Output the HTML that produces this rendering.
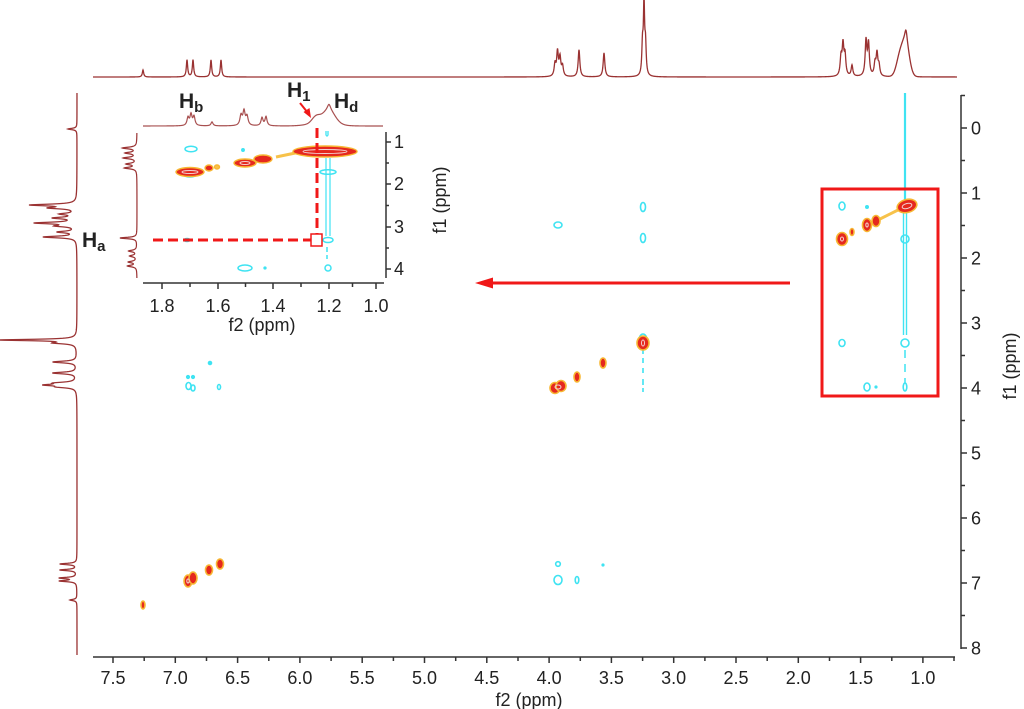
<!DOCTYPE html>
<html><head><meta charset="utf-8">
<style>
html,body{margin:0;padding:0;background:#fff;}
svg{display:block;}
text{font-family:"Liberation Sans",Arial,sans-serif;fill:#222;}
</style></head>
<body>
<svg id="s" width="1024" height="709" viewBox="0 0 1024 709" xmlns="http://www.w3.org/2000/svg">
<rect width="1024" height="709" fill="#fff"/>

<!-- spectra (filled by script) -->
<path id="topSpec" fill="none" stroke="#9a3232" stroke-width="1.3"/>
<path id="leftSpec" fill="none" stroke="#9a3232" stroke-width="1.3"/>
<path id="inTop" fill="none" stroke="#a85050" stroke-width="1.2"/>
<path id="inLeft" fill="none" stroke="#9a3232" stroke-width="1.2"/>

<!-- main x axis -->
<g stroke="#333" stroke-width="1.5" fill="none">
<line x1="93" y1="657" x2="955" y2="657"/>
<path d="M113,657v6M175.3,657v6M237.6,657v6M299.9,657v6M362.2,657v6M424.5,657v6M486.8,657v6M549.1,657v6M611.4,657v6M673.7,657v6M736,657v6M798.3,657v6M860.6,657v6M922.9,657v6"/>
<path d="M144.2,657v4M206.5,657v4M268.8,657v4M331.1,657v4M393.4,657v4M455.7,657v4M518,657v4M580.3,657v4M642.6,657v4M704.9,657v4M767.2,657v4M829.5,657v4M891.8,657v4M954,657v4"/>
<!-- right axis -->
<line x1="961" y1="95" x2="961" y2="649"/>
<path d="M961,128h6M961,193h6M961,258h6M961,323h6M961,388h6M961,453h6M961,518h6M961,583h6M961,648h6"/>
<path d="M961,95.5h4M961,160.5h4M961,225.5h4M961,290.5h4M961,355.5h4M961,420.5h4M961,485.5h4M961,550.5h4M961,615.5h4"/>
</g>
<g font-size="18" text-anchor="middle">
<text x="113" y="684">7.5</text><text x="175.3" y="684">7.0</text><text x="237.6" y="684">6.5</text><text x="299.9" y="684">6.0</text><text x="362.2" y="684">5.5</text><text x="424.5" y="684">5.0</text><text x="486.8" y="684">4.5</text><text x="549.1" y="684">4.0</text><text x="611.4" y="684">3.5</text><text x="673.7" y="684">3.0</text><text x="736" y="684">2.5</text><text x="798.3" y="684">2.0</text><text x="860.6" y="684">1.5</text><text x="922.9" y="684">1.0</text>
<text x="529" y="706">f2 (ppm)</text>
</g>
<g font-size="18" text-anchor="start">
<text x="971" y="134.5">0</text><text x="971" y="199.5">1</text><text x="971" y="264.5">2</text><text x="971" y="329.5">3</text><text x="971" y="394.5">4</text><text x="971" y="459.5">5</text><text x="971" y="524.5">6</text><text x="971" y="589.5">7</text><text x="971" y="654.5">8</text>
</g>
<text font-size="18" text-anchor="middle" transform="translate(1016,366) rotate(-90)">f1 (ppm)</text>

<!-- main cyan (negative) contours -->
<g fill="none" stroke="#3fe3f2" stroke-width="1.6">
<line x1="905" y1="93" x2="905" y2="200" stroke-width="2.2"/>
<path d="M903.5,212V335M906.5,212V335" stroke-width="1.4"/>
<circle cx="905" cy="239" r="4"/>
<circle cx="905" cy="343" r="4"/>
<path d="M905,350v8M905,364v8M905,378v6" stroke-width="1.5"/>
<ellipse cx="905" cy="387" rx="1.8" ry="4"/>
<ellipse cx="842" cy="206" rx="3" ry="4"/>
<circle cx="867" cy="207" r="1.2" fill="#3fe3f2"/>
<ellipse cx="842" cy="343" rx="3" ry="3.5"/>
<ellipse cx="867" cy="387" rx="3" ry="4"/>
<circle cx="876" cy="387" r="0.8" fill="#3fe3f2"/>
<ellipse cx="558" cy="225" rx="4" ry="3"/>
<ellipse cx="643" cy="207" rx="2.5" ry="4.5"/>
<ellipse cx="643" cy="238" rx="2.5" ry="4.5"/>
<ellipse cx="643" cy="340" rx="4" ry="6"/>
<path d="M643,350v4M643,358v5M643,368v5M643,379v6M643,388v4" stroke-width="1.6"/>
<circle cx="558" cy="564" r="2.3"/>
<ellipse cx="558" cy="580" rx="4" ry="4.5"/>
<ellipse cx="577" cy="580" rx="1.8" ry="3.5"/>
<circle cx="603" cy="565" r="0.8" fill="#3fe3f2"/>
<circle cx="210" cy="363" r="1.5" fill="#3fe3f2"/>
<circle cx="188" cy="377" r="1.3" fill="#3fe3f2"/>
<circle cx="193" cy="377" r="1.3" fill="#3fe3f2"/>
<ellipse cx="188.5" cy="386" rx="2.5" ry="3.5"/>
<ellipse cx="193" cy="388" rx="2" ry="3"/>
<ellipse cx="219" cy="387" rx="1.5" ry="2.5"/>
</g>

<!-- main positive contours -->
<g stroke="#f7b733" stroke-width="1.6" fill="#e5281e">
<path d="M880,219 L900,209" stroke="#f7c24a" stroke-width="3" fill="none"/>
<ellipse cx="907" cy="206" rx="10" ry="6.5" transform="rotate(-15 907 206)"/>
<ellipse cx="876" cy="221" rx="4" ry="5.5"/>
<ellipse cx="867" cy="225" rx="4.5" ry="6.5"/>
<ellipse cx="852" cy="232" rx="2" ry="3.5"/>
<ellipse cx="842" cy="239" rx="5.5" ry="6.5"/>
<ellipse cx="643" cy="343" rx="6" ry="7"/>
<ellipse cx="603" cy="363" rx="3" ry="5"/>
<ellipse cx="577" cy="377" rx="3" ry="5"/>
<ellipse cx="555" cy="388" rx="5" ry="5.5"/>
<ellipse cx="561" cy="386" rx="5" ry="5.5"/>
<ellipse cx="143" cy="605" rx="2" ry="4"/>
<ellipse cx="188" cy="581" rx="4" ry="6"/>
<ellipse cx="193" cy="578" rx="4" ry="6"/>
<ellipse cx="209" cy="570" rx="3.5" ry="5"/>
<ellipse cx="220" cy="564" rx="3.5" ry="5"/>
</g>
<g fill="none" stroke="#f3d0d0" stroke-width="1">
<ellipse cx="907" cy="206" rx="5" ry="2.5" transform="rotate(-15 907 206)"/>
<ellipse cx="643" cy="343" rx="1.5" ry="3"/>
<ellipse cx="558" cy="387" rx="3" ry="2"/>
<ellipse cx="842" cy="239" rx="1.5" ry="2"/>
<ellipse cx="867" cy="225" rx="1.2" ry="2"/>
<ellipse cx="188" cy="581" rx="1.2" ry="2"/>
</g>

<!-- red box & arrow -->
<rect x="822" y="189" width="116" height="207" fill="none" stroke="#f01818" stroke-width="3"/>
<line x1="490" y1="283" x2="790" y2="283" stroke="#f01818" stroke-width="3"/>
<polygon points="475,283 493,277.5 493,288.5" fill="#f01818"/>

<!-- inset axes -->
<g stroke="#333" stroke-width="1.5" fill="none">
<line x1="143" y1="283" x2="384" y2="283"/>
<path d="M162,283v6M218,283v6M273,283v6M329,283v6M376,283v6"/>
<path d="M190,283v4M245.5,283v4M301,283v4M352.5,283v4"/>
<line x1="386" y1="132" x2="386" y2="278"/>
<path d="M386,142h5M386,184h5M386,227h5M386,269h5"/>
<path d="M386,163h3M386,205.5h3M386,248h3"/>
</g>
<g font-size="18" text-anchor="middle">
<text x="162" y="312">1.8</text><text x="218" y="312">1.6</text><text x="273" y="312">1.4</text><text x="329" y="312">1.2</text><text x="376" y="312">1.0</text>
<text x="262" y="331">f2 (ppm)</text>
</g>
<g font-size="18">
<text x="394" y="148">1</text><text x="394" y="190">2</text><text x="394" y="233">3</text><text x="394" y="275">4</text>
</g>
<text font-size="18" text-anchor="middle" transform="translate(446,200) rotate(-90)">f1 (ppm)</text>

<!-- inset contours -->
<g fill="none" stroke="#3fe3f2" stroke-width="1.5">
<ellipse cx="191" cy="149" rx="6" ry="2.8"/>
<circle cx="243" cy="150" r="1.2" fill="#3fe3f2"/>
<path d="M326,131v4q1,2 2,0v-4" stroke-width="1.3"/>
<path d="M326,158V236M330,158V236" stroke-width="1.2"/>
<ellipse cx="328" cy="172" rx="8" ry="2.3"/>
<ellipse cx="328" cy="240" rx="5" ry="2.5"/>
<path d="M327,247v5M327,255v4" stroke-width="1.5"/>
<ellipse cx="187" cy="240" rx="3" ry="1.5"/>
<ellipse cx="245" cy="268" rx="7" ry="3"/>
<circle cx="265" cy="268" r="0.9" fill="#3fe3f2"/>
<circle cx="328" cy="268" r="3"/>
<ellipse cx="190" cy="175" rx="6" ry="2"/>
</g>
<g stroke="#f7b733" stroke-width="1.4" fill="#e5281e">
<path d="M276,157 L305,151" stroke="#f7c24a" stroke-width="3" fill="none"/>
<ellipse cx="190" cy="172" rx="14" ry="4.5"/>
<ellipse cx="209" cy="168" rx="4" ry="3"/>
<ellipse cx="217" cy="167" rx="2.5" ry="2" fill="#f7c24a"/>
<ellipse cx="245" cy="163" rx="11" ry="4"/>
<ellipse cx="263" cy="159" rx="9" ry="4"/>
<ellipse cx="325" cy="151.5" rx="32" ry="5.5"/>
</g>
<g fill="none" stroke="#f3d0d0" stroke-width="0.9">
<ellipse cx="190" cy="172" rx="8" ry="1.5"/>
<ellipse cx="245" cy="163" rx="5" ry="1.5"/>
<ellipse cx="325" cy="151.5" rx="22" ry="2"/>
</g>

<!-- inset dashed lines -->
<g stroke="#f01818" stroke-width="3" fill="none">
<line x1="317" y1="128" x2="317" y2="234" stroke-dasharray="10,5"/>
<line x1="153" y1="240" x2="311" y2="240" stroke-dasharray="10,5"/>
</g>
<rect x="311" y="234" width="11" height="12" fill="none" stroke="#f01818" stroke-width="1.5"/>
<line x1="300" y1="103" x2="308" y2="113" stroke="#f01818" stroke-width="2"/>
<polygon points="311,118 303.5,112 309.5,108" fill="#f01818"/>

<!-- labels -->
<g font-weight="bold" font-size="21" fill="#111">
<text x="179" y="108">H<tspan font-size="15" dy="4">b</tspan></text>
<text x="287" y="97">H<tspan font-size="15" dy="4">1</tspan></text>
<text x="334" y="108">H<tspan font-size="15" dy="4">d</tspan></text>
<text x="82" y="247">H<tspan font-size="15" dy="4">a</tspan></text>
</g>
</svg>
<script>
(function(){
function pk(x,p){var d=x-p[0];if(p[3]){return p[1]*Math.exp(-d*d/(2*p[2]*p[2]));}return p[1]*p[2]*p[2]/(d*d+p[2]*p[2]);}
function build(a,b,step,peaks){var pts=[];for(var t=a;t<=b+1e-6;t+=step){var s=0;for(var i=0;i<peaks.length;i++){s+=pk(t,peaks[i]);}pts.push([t,s]);}return pts;}
var sTop=build(93,957,0.25,[[143,7,0.8],[187,17,0.8],[193,17,0.8],[211,17,0.8],[221,17,0.8],[555,12,1],[557.5,24,1],[560,18,1],[562.5,10,1],[579,27,1],[604,24,1],[642.5,30,0.8],[644,70,0.7],[645.5,30,0.8],[841,18,1],[843,30,1],[845,20,1],[852,11,1],[866,35,1],[868.5,32,1],[875,12,1],[877,22,1],[879,10,1],[900,20,3.5,1],[906,30,3.5,1],[906,12,1.5]]);
var d="";sTop.forEach(function(p,i){d+=(i?"L":"M")+p[0].toFixed(2)+","+(77-p[1]).toFixed(2);});
document.getElementById("topSpec").setAttribute("d",d);
var sLeft=build(93,655,0.25,[[129,9,0.8],[205,45,1],[208,25,1],[214,15,1],[218,22,1],[223,40,1],[226,18,1],[232,18,1],[237,33,1],[340,77,0.8],[343,20,1],[362,24,1],[373,24,1],[383,18,1],[385,28,1],[387,15,1],[564,17,0.8],[570,17,0.8],[578,17,0.8],[581,17,0.8],[600,7,0.8]]);
d="";sLeft.forEach(function(p,i){d+=(i?"L":"M")+(77-p[1]).toFixed(2)+","+p[0].toFixed(2);});
document.getElementById("leftSpec").setAttribute("d",d);
var sIt=build(143,383,0.25,[[188,8,1.2],[191,11,1.2],[194,9,1.2],[212,4,1.2],[241,10,1.3],[244,14,1.3],[247,9,1.3],[262,8,1.2],[266,9,1.2],[316,6,4,1],[329,12,6,1],[329,6,2],[323,4,12,1]]);
d="";sIt.forEach(function(p,i){d+=(i?"L":"M")+p[0].toFixed(2)+","+(126-p[1]).toFixed(2);});
document.getElementById("inTop").setAttribute("d",d);
var sIl=build(133,278,0.25,[[148,14,1],[153,11,1],[158,13,1],[164,10,1],[168,12,1],[238,17,0.8],[251,8,1],[256,7,1],[262,8,1],[266,9,1]]);
d="";sIl.forEach(function(p,i){d+=(i?"L":"M")+(137-p[1]).toFixed(2)+","+p[0].toFixed(2);});
document.getElementById("inLeft").setAttribute("d",d);
})();
</script>
</body></html>
